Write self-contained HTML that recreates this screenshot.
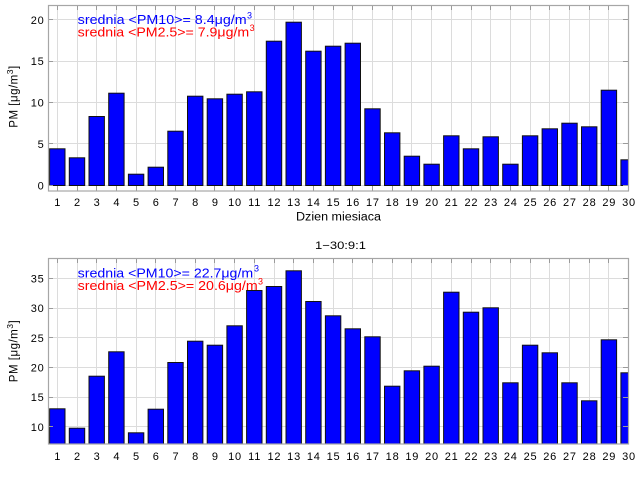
<!DOCTYPE html>
<html><head><meta charset="utf-8"><style>
html,body{margin:0;padding:0;background:#fff;}
svg{display:block;font-family:"Liberation Sans",Arial,sans-serif;}
</style></head><body>
<svg width="640" height="480" viewBox="0 0 640 480" xmlns="http://www.w3.org/2000/svg">
<defs>
<clipPath id="c1"><rect x="48" y="5" width="580.7" height="186.3"/></clipPath>
<clipPath id="c2"><rect x="48" y="258.3" width="580.7" height="186"/></clipPath>
</defs>
<rect width="640" height="480" fill="#fff"/>

<!-- ===== TOP CHART ===== -->
<g stroke="#dcdcdc" stroke-width="1" fill="none">
<path d="M57.5 5V191M77.5 5V191M96.5 5V191M116.5 5V191M136.5 5V191M155.5 5V191M175.5 5V191M195.5 5V191M214.5 5V191M234.5 5V191M254.5 5V191M274.5 5V191M293.5 5V191M313.5 5V191M333.5 5V191M352.5 5V191M372.5 5V191M392.5 5V191M411.5 5V191M431.5 5V191M451.5 5V191M471.5 5V191M490.5 5V191M510.5 5V191M530.5 5V191M549.5 5V191M569.5 5V191M589.5 5V191M608.5 5V191"/>
<path d="M48 185.5H629M48 143.5H629M48 102.5H629M48 61.5H629M48 19.5H629"/>
</g>
<g clip-path="url(#c1)" fill="#0000ff" stroke="#111" stroke-width="1">
<rect x="49.6" y="148.8" width="15.4" height="36.7"/>
<rect x="69.3" y="157.8" width="15.4" height="27.7"/>
<rect x="89.0" y="116.5" width="15.4" height="69"/>
<rect x="108.7" y="93.2" width="15.4" height="92.3"/>
<rect x="128.4" y="174.2" width="15.4" height="11.3"/>
<rect x="148.1" y="167.2" width="15.4" height="18.3"/>
<rect x="167.8" y="131.2" width="15.4" height="54.3"/>
<rect x="187.5" y="96.2" width="15.4" height="89.3"/>
<rect x="207.2" y="98.8" width="15.4" height="86.7"/>
<rect x="226.9" y="94.2" width="15.4" height="91.3"/>
<rect x="246.6" y="91.8" width="15.4" height="93.7"/>
<rect x="266.3" y="41.2" width="15.4" height="144.3"/>
<rect x="286.0" y="22.2" width="15.4" height="163.3"/>
<rect x="305.7" y="51.2" width="15.4" height="134.3"/>
<rect x="325.4" y="46.2" width="15.4" height="139.3"/>
<rect x="345.1" y="43.2" width="15.4" height="142.3"/>
<rect x="364.8" y="108.8" width="15.4" height="76.7"/>
<rect x="384.5" y="132.8" width="15.4" height="52.7"/>
<rect x="404.2" y="156.2" width="15.4" height="29.3"/>
<rect x="423.9" y="164.2" width="15.4" height="21.3"/>
<rect x="443.6" y="135.8" width="15.4" height="49.7"/>
<rect x="463.3" y="148.8" width="15.4" height="36.7"/>
<rect x="483.0" y="136.8" width="15.4" height="48.7"/>
<rect x="502.7" y="164.2" width="15.4" height="21.3"/>
<rect x="522.4" y="135.8" width="15.4" height="49.7"/>
<rect x="542.1" y="128.8" width="15.4" height="56.7"/>
<rect x="561.8" y="123.2" width="15.4" height="62.3"/>
<rect x="581.5" y="126.8" width="15.4" height="58.7"/>
<rect x="601.2" y="90.2" width="15.4" height="95.3"/>
<rect x="620.9" y="159.8" width="15.4" height="25.7"/>
</g>
<g stroke="#9a9a9a" stroke-width="1" fill="none">
<path d="M57.5 5v5M77.5 5v5M96.5 5v5M116.5 5v5M136.5 5v5M155.5 5v5M175.5 5v5M195.5 5v5M214.5 5v5M234.5 5v5M254.5 5v5M274.5 5v5M293.5 5v5M313.5 5v5M333.5 5v5M352.5 5v5M372.5 5v5M392.5 5v5M411.5 5v5M431.5 5v5M451.5 5v5M471.5 5v5M490.5 5v5M510.5 5v5M530.5 5v5M549.5 5v5M569.5 5v5M589.5 5v5M608.5 5v5"/>
<path d="M57.5 191v-5M77.5 191v-5M96.5 191v-5M116.5 191v-5M136.5 191v-5M155.5 191v-5M175.5 191v-5M195.5 191v-5M214.5 191v-5M234.5 191v-5M254.5 191v-5M274.5 191v-5M293.5 191v-5M313.5 191v-5M333.5 191v-5M352.5 191v-5M372.5 191v-5M392.5 191v-5M411.5 191v-5M431.5 191v-5M451.5 191v-5M471.5 191v-5M490.5 191v-5M510.5 191v-5M530.5 191v-5M549.5 191v-5M569.5 191v-5M589.5 191v-5M608.5 191v-5"/>
<path d="M48 185.5h5M48 143.5h5M48 102.5h5M48 61.5h5M48 19.5h5M629 185.5h-6M629 143.5h-6M629 102.5h-6M629 61.5h-6M629 19.5h-6"/>
</g>
<rect x="48.5" y="5.5" width="580" height="185.5" fill="none" stroke="#a6a6a6" stroke-width="1.2"/>

<g font-size="11" fill="#000" text-anchor="end" letter-spacing="0.8">
<text x="44.6" y="189.4">0</text>
<text x="44.6" y="148">5</text>
<text x="44.6" y="106.6">10</text>
<text x="44.6" y="65.2">15</text>
<text x="44.6" y="23.9">20</text>
</g>
<g font-size="11" fill="#000" text-anchor="middle" letter-spacing="0.8">
<text x="57.7" y="205.8">1</text><text x="77.4" y="205.8">2</text><text x="97.1" y="205.8">3</text><text x="116.8" y="205.8">4</text><text x="136.5" y="205.8">5</text><text x="156.2" y="205.8">6</text><text x="175.9" y="205.8">7</text><text x="195.6" y="205.8">8</text><text x="215.3" y="205.8">9</text><text x="235" y="205.8">10</text><text x="254.7" y="205.8">11</text><text x="274.4" y="205.8">12</text><text x="294.1" y="205.8">13</text><text x="313.8" y="205.8">14</text><text x="333.5" y="205.8">15</text><text x="353.2" y="205.8">16</text><text x="372.9" y="205.8">17</text><text x="392.6" y="205.8">18</text><text x="412.3" y="205.8">19</text><text x="432" y="205.8">20</text><text x="451.7" y="205.8">21</text><text x="471.4" y="205.8">22</text><text x="491.1" y="205.8">23</text><text x="510.8" y="205.8">24</text><text x="530.5" y="205.8">25</text><text x="550.2" y="205.8">26</text><text x="569.9" y="205.8">27</text><text x="589.6" y="205.8">28</text><text x="609.3" y="205.8">29</text><text x="629" y="205.8">30</text>
</g>
<text x="296" y="220.7" font-size="11.5" fill="#000" textLength="85" lengthAdjust="spacingAndGlyphs">Dzien miesiaca</text>
<text transform="translate(17.5,96.5) rotate(-90)" text-anchor="middle" font-size="11.5" fill="#000" letter-spacing="0.5">PM [μg/m<tspan dy="-4.5" font-size="8.5">3</tspan><tspan dy="4.5">]</tspan></text>

<text x="77.7" y="24" font-size="12.5" fill="#0000ff" textLength="169" lengthAdjust="spacingAndGlyphs">srednia &lt;PM10&gt;= 8.4μg/m</text>
<text x="247" y="18.3" font-size="9" fill="#0000ff">3</text>
<text x="77.7" y="36.7" font-size="12.5" fill="#ff0000" textLength="171.5" lengthAdjust="spacingAndGlyphs">srednia &lt;PM2.5&gt;= 7.9μg/m</text>
<text x="249.6" y="31" font-size="9" fill="#ff0000">3</text>

<!-- ===== BOTTOM CHART ===== -->
<text x="315" y="249" font-size="11" fill="#000" textLength="51" lengthAdjust="spacingAndGlyphs">1−30:9:1</text>
<g stroke="#dcdcdc" stroke-width="1" fill="none">
<path d="M57.5 258V444M77.5 258V444M96.5 258V444M116.5 258V444M136.5 258V444M155.5 258V444M175.5 258V444M195.5 258V444M214.5 258V444M234.5 258V444M254.5 258V444M274.5 258V444M293.5 258V444M313.5 258V444M333.5 258V444M352.5 258V444M372.5 258V444M392.5 258V444M411.5 258V444M431.5 258V444M451.5 258V444M471.5 258V444M490.5 258V444M510.5 258V444M530.5 258V444M549.5 258V444M569.5 258V444M589.5 258V444M608.5 258V444"/>
<path d="M48 426.5H629M48 397.5H629M48 367.5H629M48 337.5H629M48 308.5H629M48 278.5H629"/>
</g>
<g clip-path="url(#c2)" fill="#0000ff" stroke="#111" stroke-width="1">
<rect x="49.6" y="408.8" width="15.4" height="41.2"/>
<rect x="69.3" y="428.2" width="15.4" height="21.8"/>
<rect x="89.0" y="376.2" width="15.4" height="73.8"/>
<rect x="108.7" y="351.8" width="15.4" height="98.2"/>
<rect x="128.4" y="432.8" width="15.4" height="17.2"/>
<rect x="148.1" y="409.2" width="15.4" height="40.8"/>
<rect x="167.8" y="362.5" width="15.4" height="87.5"/>
<rect x="187.5" y="341.2" width="15.4" height="108.8"/>
<rect x="207.2" y="345.2" width="15.4" height="104.8"/>
<rect x="226.9" y="325.8" width="15.4" height="124.2"/>
<rect x="246.6" y="290.5" width="15.4" height="159.5"/>
<rect x="266.3" y="286.5" width="15.4" height="163.5"/>
<rect x="286.0" y="270.8" width="15.4" height="179.2"/>
<rect x="305.7" y="301.5" width="15.4" height="148.5"/>
<rect x="325.4" y="315.8" width="15.4" height="134.2"/>
<rect x="345.1" y="328.8" width="15.4" height="121.2"/>
<rect x="364.8" y="336.8" width="15.4" height="113.2"/>
<rect x="384.5" y="386.2" width="15.4" height="63.8"/>
<rect x="404.2" y="370.8" width="15.4" height="79.2"/>
<rect x="423.9" y="366.2" width="15.4" height="83.8"/>
<rect x="443.6" y="292.2" width="15.4" height="157.8"/>
<rect x="463.3" y="312.2" width="15.4" height="137.8"/>
<rect x="483.0" y="307.8" width="15.4" height="142.2"/>
<rect x="502.7" y="382.8" width="15.4" height="67.2"/>
<rect x="522.4" y="345.2" width="15.4" height="104.8"/>
<rect x="542.1" y="352.8" width="15.4" height="97.2"/>
<rect x="561.8" y="382.8" width="15.4" height="67.2"/>
<rect x="581.5" y="400.8" width="15.4" height="49.2"/>
<rect x="601.2" y="339.8" width="15.4" height="110.2"/>
<rect x="620.9" y="372.8" width="15.4" height="77.2"/>
</g>
<g stroke="#9a9a9a" stroke-width="1" fill="none">
<path d="M57.5 258v5M77.5 258v5M96.5 258v5M116.5 258v5M136.5 258v5M155.5 258v5M175.5 258v5M195.5 258v5M214.5 258v5M234.5 258v5M254.5 258v5M274.5 258v5M293.5 258v5M313.5 258v5M333.5 258v5M352.5 258v5M372.5 258v5M392.5 258v5M411.5 258v5M431.5 258v5M451.5 258v5M471.5 258v5M490.5 258v5M510.5 258v5M530.5 258v5M549.5 258v5M569.5 258v5M589.5 258v5M608.5 258v5"/>
<path d="M48 426.5h5M48 397.5h5M48 367.5h5M48 337.5h5M48 308.5h5M48 278.5h5M629 426.5h-6M629 397.5h-6M629 367.5h-6M629 337.5h-6M629 308.5h-6M629 278.5h-6"/>
</g>
<rect x="48.5" y="258.5" width="580" height="185.5" fill="none" stroke="#a6a6a6" stroke-width="1.2"/>

<g font-size="11" fill="#000" text-anchor="end" letter-spacing="0.8">
<text x="44.6" y="430.8">10</text>
<text x="44.6" y="401.1">15</text>
<text x="44.6" y="371.5">20</text>
<text x="44.6" y="341.8">25</text>
<text x="44.6" y="312.2">30</text>
<text x="44.6" y="282.5">35</text>
</g>
<g font-size="11" fill="#000" text-anchor="middle" letter-spacing="0.8">
<text x="57.7" y="460">1</text><text x="77.4" y="460">2</text><text x="97.1" y="460">3</text><text x="116.8" y="460">4</text><text x="136.5" y="460">5</text><text x="156.2" y="460">6</text><text x="175.9" y="460">7</text><text x="195.6" y="460">8</text><text x="215.3" y="460">9</text><text x="235" y="460">10</text><text x="254.7" y="460">11</text><text x="274.4" y="460">12</text><text x="294.1" y="460">13</text><text x="313.8" y="460">14</text><text x="333.5" y="460">15</text><text x="353.2" y="460">16</text><text x="372.9" y="460">17</text><text x="392.6" y="460">18</text><text x="412.3" y="460">19</text><text x="432" y="460">20</text><text x="451.7" y="460">21</text><text x="471.4" y="460">22</text><text x="491.1" y="460">23</text><text x="510.8" y="460">24</text><text x="530.5" y="460">25</text><text x="550.2" y="460">26</text><text x="569.9" y="460">27</text><text x="589.6" y="460">28</text><text x="609.3" y="460">29</text><text x="629" y="460">30</text>
</g>
<text transform="translate(17.5,351) rotate(-90)" text-anchor="middle" font-size="11.5" fill="#000" letter-spacing="0.5">PM [μg/m<tspan dy="-4.5" font-size="8.5">3</tspan><tspan dy="4.5">]</tspan></text>

<text x="77.7" y="277.3" font-size="12.5" fill="#0000ff" textLength="175.5" lengthAdjust="spacingAndGlyphs">srednia &lt;PM10&gt;= 22.7μg/m</text>
<text x="254" y="271.6" font-size="9" fill="#0000ff">3</text>
<text x="77.7" y="290" font-size="12.5" fill="#ff0000" textLength="180" lengthAdjust="spacingAndGlyphs">srednia &lt;PM2.5&gt;= 20.6μg/m</text>
<text x="258" y="284.3" font-size="9" fill="#ff0000">3</text>
</svg>
</body></html>
